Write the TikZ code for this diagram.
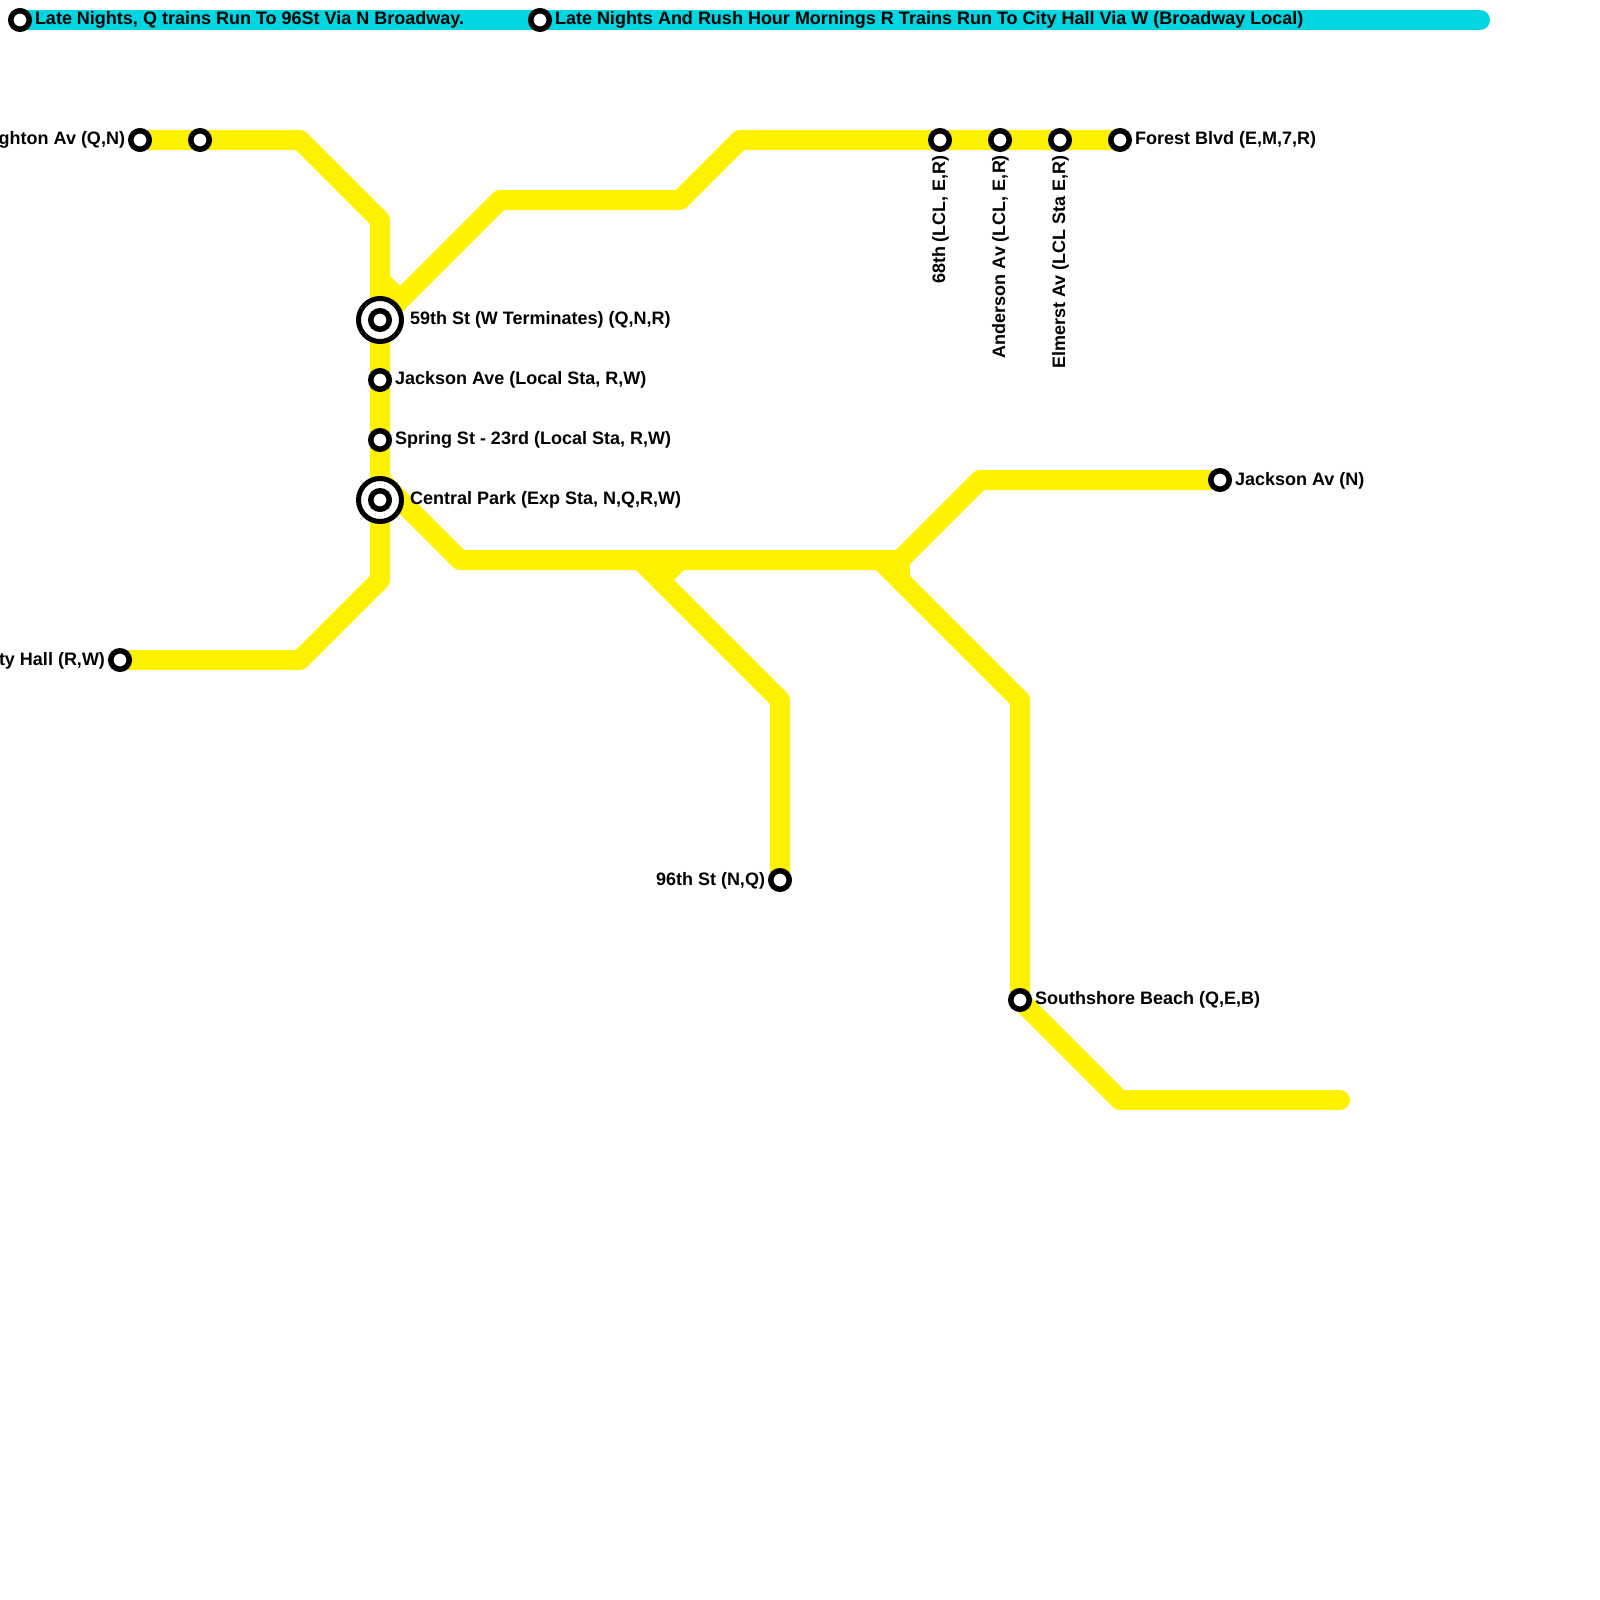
\documentclass[tikz,border=0pt]{standalone}
\usepackage{fontspec}
\setmainfont{Liberation Sans}
\definecolor{lineyellow}{HTML}{FFF200}
\definecolor{linecyan}{HTML}{00D6E2}
\tikzset{
  yline/.style={draw=lineyellow,line width=20pt,line join=round,line cap=round},
  cline/.style={draw=linecyan,line width=20pt,line cap=round},
  sta/.style={circle,draw=black,fill=white,line width=5.5pt,minimum size=18.5pt,inner sep=0pt,outer sep=0pt},
  bigsta/.style={circle,draw=black,fill=white,line width=5pt,minimum size=43pt,inner sep=0pt,outer sep=0pt},
  lab/.style={font=\fontsize{18}{20}\selectfont\bfseries,inner sep=0pt,outer sep=0pt,text=black},
  rlab/.style={lab,anchor=base west},
  llab/.style={lab,anchor=base east},
  vlab/.style={lab,anchor=base east,rotate=90}
}
\begin{document}
\begin{tikzpicture}[x=1pt,y=-1pt]
\useasboundingbox (0,0) rectangle (1600,1600);
% junction coordinates
\coordinate (j1) at (300,140);
\coordinate (j2) at (380,220);
\coordinate (j3) at (380,580);
\coordinate (j4) at (300,660);
\coordinate (k1) at (380,280);
\coordinate (k2) at (400,300);
\coordinate (k3) at (500,200);
\coordinate (k4) at (680,200);
\coordinate (k5) at (740,140);
\coordinate (m1) at (380,480);
\coordinate (m2) at (460,560);
\coordinate (m3) at (900,560);
\coordinate (m4) at (980,480);
\coordinate (n1) at (880,560);
\coordinate (n2) at (900,580);
\coordinate (n3) at (1020,700);
\coordinate (n4) at (1120,1100);
\coordinate (n5) at (1340,1100);
\coordinate (p1) at (640,560);
\coordinate (p2) at (660,580);
\coordinate (p3) at (680,560);
\coordinate (p4) at (780,700);
\coordinate (c1) at (1480,20);
% station positions
\path
 (20,20) coordinate (sA) (540,20) coordinate (sB)
 (140,140) coordinate (sC) (200,140) coordinate (sD)
 (380,320) coordinate (sE) (380,380) coordinate (sF)
 (380,440) coordinate (sG) (380,500) coordinate (sH)
 (120,660) coordinate (sI) (780,880) coordinate (sJ)
 (1020,1000) coordinate (sK) (1220,480) coordinate (sL)
 (940,140) coordinate (sM) (1000,140) coordinate (sN)
 (1060,140) coordinate (sO) (1120,140) coordinate (sP);
% lines
\draw[cline] (sA) -- (c1);
\draw[yline] (sC) -- (j1) -- (j2) -- (j3) -- (j4) -- (sI);
\draw[yline] (k1) -- (k2);
\draw[yline] (sE) -- (k3) -- (k4) -- (k5) -- (sP);
\draw[yline] (m1) -- (m2) -- (m3) -- (m4) -- (sL);
\draw[yline] (n1) -- (n3);
\draw[yline] (m3) -- (n2);
\draw[yline] (n3) -- (sK) -- (n4) -- (n5);
\draw[yline] (p1) -- (p4) -- (sJ);
\draw[yline] (p2) -- (p3);
% stations
\foreach \s in {sE,sH} \node[bigsta] (big\s) at (\s) {};
\foreach \s in {sA,sB,sC,sD,sE,sF,sG,sH,sI,sJ,sK,sL,sM,sN,sO,sP} \node[sta] (st\s) at (\s) {};
% labels
\node[rlab] (tA) at (35,25) {Late Nights, Q trains Run To 96St Via N Broadway.};
\node[rlab] (tB) at (555,25) {Late Nights And Rush Hour Mornings R Trains Run To City Hall Via W (Broadway Local)};
\node[llab] (tC) at (125,145) {Brighton Av (Q,N)};
\node[rlab] (tE) at (410,324) {59th St (W Terminates) (Q,N,R)};
\node[rlab] (tF) at (395,384) {Jackson Ave (Local Sta, R,W)};
\node[rlab] (tG) at (395,444) {Spring St - 23rd (Local Sta, R,W)};
\node[rlab] (tH) at (410,504) {Central Park (Exp Sta, N,Q,R,W)};
\node[llab] (tI) at (105,665) {City Hall (R,W)};
\node[llab] (tJ) at (765,885) {96th St (N,Q)};
\node[rlab] (tK) at (1035,1004) {Southshore Beach (Q,E,B)};
\node[rlab] (tL) at (1235,485) {Jackson Av (N)};
\node[rlab] (tP) at (1135,144) {Forest Blvd (E,M,7,R)};
\node[vlab] (tM) at (945,155) {68th (LCL, E,R)};
\node[vlab] (tN) at (1005,155) {Anderson Av (LCL, E,R)};
\node[vlab] (tO) at (1065,155) {Elmerst Av (LCL Sta E,R)};
\end{tikzpicture}
\end{document}
